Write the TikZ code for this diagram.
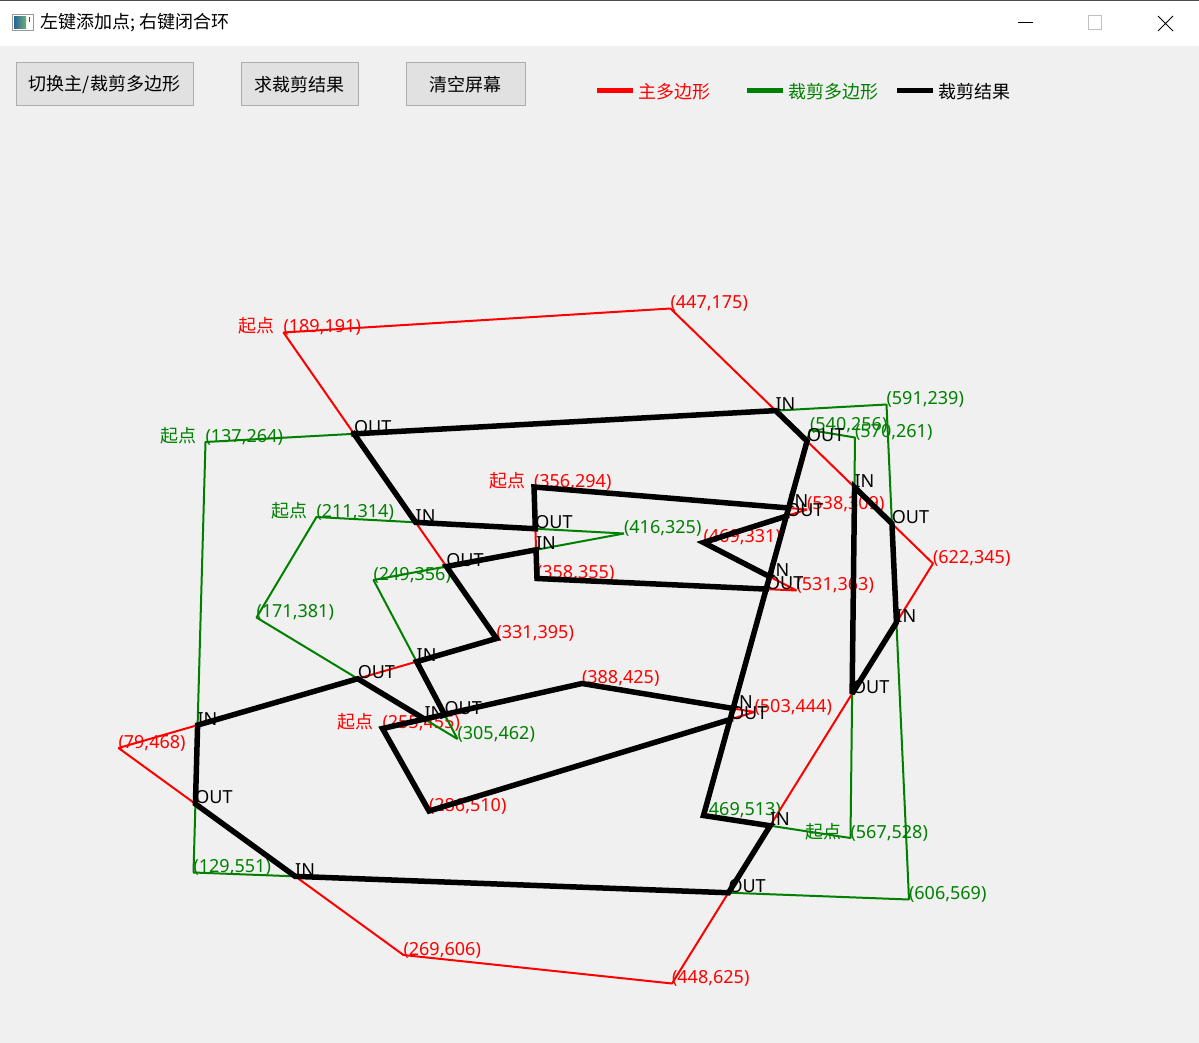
\documentclass[tikz,border=0pt]{standalone}
\usepackage{fontspec}
\setmainfont{Noto Sans}
\newfontfamily\cjk{Noto Sans CJK SC}
\definecolor{qgreen}{RGB}{0,128,0}
\definecolor{qred}{RGB}{255,0,0}
\definecolor{winbg}{RGB}{240,240,240}
\definecolor{btnfill}{RGB}{225,225,225}
\definecolor{btnedge}{RGB}{173,173,173}
\definecolor{icoA}{RGB}{40,100,150}
\definecolor{icoB}{RGB}{110,175,120}
\tikzset{
  redline/.style={qred, line width=2pt, line join=bevel},
  greenline/.style={qgreen, line width=2pt, line join=bevel},
  resline/.style={black, line width=5.5pt, line cap=rect, line join=miter, miter limit=3},
  vlab/.style={anchor=base west, inner sep=0pt, outer sep=0pt, font=\fontsize{18}{18}\selectfont},
  redlab/.style={vlab, text=qred},
  greenlab/.style={vlab, text=qgreen},
  startlab/.style={vlab, font=\cjk\fontsize{18}{18}\selectfont, xshift=-45pt},
  iolab/.style={vlab, text=black},
  btn/.style={draw=btnedge, fill=btnfill, line width=1pt, inner sep=0pt, minimum height=43pt, font=\cjk\fontsize{18}{18}\selectfont},
  legtext/.style={anchor=west, inner sep=0pt, font=\cjk\fontsize{18}{18}\selectfont},
}
\begin{document}
\begin{tikzpicture}[x=1pt,y=-1pt]
\useasboundingbox (0,0) rectangle (1199,1043);
% window
\fill[winbg] (0,0) rectangle (1199,1043);
\fill[white] (0,0) rectangle (1199,46);
\fill[black!70] (0,0) rectangle (1199,1.5);
% icon
\draw[line width=1pt, draw=gray!80, fill=white] (12,14.5) rectangle (33,31);
\shade[left color=icoA, right color=icoB] (14,16.5) rectangle (26,29);
\fill[black!70] (28.5,17) rectangle (29.8,22.5);
\node[anchor=west, inner sep=0pt, font=\cjk\fontsize{18}{18}\selectfont] (title) at (40,23) {左键添加点; 右键闭合环};
% window controls
\draw[line width=1pt] (1018,23) -- (1033,23);
\draw[line width=1pt, draw=black!25] (1088,16) rectangle (1101,30);
\draw[line width=1pt] (1158,16) -- (1173,31) (1173,16) -- (1158,31);
% buttons
\node[btn, minimum width=177pt] (b1) at (104.5,84.5) {切换主/裁剪多边形};
\node[btn, minimum width=117pt] (b2) at (299.5,84.5) {求裁剪结果};
\node[btn, minimum width=119pt] (b3) at (465.5,84.5) {清空屏幕};
% legend
\draw[qred, line width=5pt] (597,91) -- (633,91);
\node[legtext, text=qred] (l1) at (638,92) {主多边形};
\draw[qgreen, line width=5pt] (747,91) -- (783,91);
\node[legtext, text=qgreen] (l2) at (788,92) {裁剪多边形};
\draw[black, line width=5pt] (897,91) -- (933,91);
\node[legtext, text=black] (l3) at (938,92) {裁剪结果};

\begin{scope}[yshift=-46pt, x=1.5pt, y=-1.5pt]
% main polygons (red)
\coordinate (ra) at (189,191); \coordinate (rb) at (447,175); \coordinate (rc) at (622,345);
\coordinate (rd) at (448,625); \coordinate (re) at (269,606); \coordinate (rf) at (79,468);
\coordinate (rg) at (331,395);
\coordinate (sa) at (356,294); \coordinate (sb) at (538,309); \coordinate (sc) at (469,331);
\coordinate (sd) at (531,363); \coordinate (se) at (358,355);
\coordinate (ta) at (255,455); \coordinate (tb) at (286,510); \coordinate (tc) at (503,444);
\coordinate (td) at (388,425);
% clip polygons (green)
\coordinate (ga) at (137,264); \coordinate (gb) at (591,239); \coordinate (gc) at (606,569);
\coordinate (gd) at (129,551);
\coordinate (ha) at (211,314); \coordinate (hb) at (416,325); \coordinate (hc) at (249,356);
\coordinate (hd) at (305,462); \coordinate (he) at (171,381);
\coordinate (ka) at (567,528); \coordinate (kb) at (469,513); \coordinate (kc) at (540,256);
\coordinate (kd) at (570,261);
% intersections
\coordinate (P1) at (intersection of ra--rg and ga--gb);
\coordinate (P2) at (intersection of rb--rc and ga--gb);
\coordinate (P3) at (intersection of rb--rc and kc--kb);
\coordinate (P4) at (intersection of rb--rc and kd--ka);
\coordinate (P5) at (intersection of rb--rc and gb--gc);
\coordinate (P6) at (intersection of rc--rd and gb--gc);
\coordinate (P7) at (intersection of rc--rd and kd--ka);
\coordinate (P8) at (intersection of rc--rd and kb--ka);
\coordinate (P9) at (intersection of rc--rd and gc--gd);
\coordinate (P10) at (intersection of re--rf and gc--gd);
\coordinate (P11) at (intersection of re--rf and gd--ga);
\coordinate (P12) at (intersection of rf--rg and gd--ga);
\coordinate (P13) at (intersection of rf--rg and hd--he);
\coordinate (P14) at (intersection of rf--rg and hc--hd);
\coordinate (P15) at (intersection of rg--ra and hb--hc);
\coordinate (P16) at (intersection of rg--ra and ha--hb);
\coordinate (P17) at (intersection of se--sa and ha--hb);
\coordinate (P18) at (intersection of se--sa and hb--hc);
\coordinate (P19) at (intersection of sa--sb and kc--kb);
\coordinate (P20) at (intersection of sb--sc and kc--kb);
\coordinate (P21) at (intersection of sc--sd and kc--kb);
\coordinate (P22) at (intersection of sd--se and kc--kb);
\coordinate (P23) at (intersection of tc--td and kc--kb);
\coordinate (P24) at (intersection of tb--tc and kc--kb);
\coordinate (P25) at (intersection of ta--td and hd--he);
\coordinate (P26) at (intersection of ta--td and hc--hd);

% red polygons
\draw[redline] (ra)--(rb)--(rc)--(rd)--(re)--(rf)--(rg)--cycle;
\draw[redline] (sa)--(sb)--(sc)--(sd)--(se)--cycle;
\draw[redline] (ta)--(tb)--(tc)--(td)--cycle;
\node[redlab, startlab] (nra0) at (ra) {起点};
\node[redlab] (nra) at (ra) {(189,191)};
\node[redlab] (nrb) at (rb) {(447,175)};
\node[redlab] (nrc) at (rc) {(622,345)};
\node[redlab] (nrd) at (rd) {(448,625)};
\node[redlab] (nre) at (re) {(269,606)};
\node[redlab] (nrf) at (rf) {(79,468)};
\node[redlab] (nrg) at (rg) {(331,395)};
\node[redlab, startlab] (nsa0) at (sa) {起点};
\node[redlab] (nsa) at (sa) {(356,294)};
\node[redlab] (nsb) at (sb) {(538,309)};
\node[redlab] (nsc) at (sc) {(469,331)};
\node[redlab] (nsd) at (sd) {(531,363)};
\node[redlab] (nse) at (se) {(358,355)};
\node[redlab, startlab] (nta0) at (ta) {起点};
\node[redlab] (nta) at (ta) {(255,455)};
\node[redlab] (ntb) at (tb) {(286,510)};
\node[redlab] (ntc) at (tc) {(503,444)};
\node[redlab] (ntd) at (td) {(388,425)};

% green polygons
\draw[greenline] (ga)--(gb)--(gc)--(gd)--cycle;
\draw[greenline] (ha)--(hb)--(hc)--(hd)--(he)--cycle;
\draw[greenline] (ka)--(kb)--(kc)--(kd)--cycle;
\node[greenlab, startlab] (nga0) at (ga) {起点};
\node[greenlab] (nga) at (ga) {(137,264)};
\node[greenlab] (ngb) at (gb) {(591,239)};
\node[greenlab] (ngc) at (gc) {(606,569)};
\node[greenlab] (ngd) at (gd) {(129,551)};
\node[greenlab, startlab] (nha0) at (ha) {起点};
\node[greenlab] (nha) at (ha) {(211,314)};
\node[greenlab] (nhb) at (hb) {(416,325)};
\node[greenlab] (nhc) at (hc) {(249,356)};
\node[greenlab] (nhd) at (hd) {(305,462)};
\node[greenlab] (nhe) at (he) {(171,381)};
\node[greenlab, startlab] (nka0) at (ka) {起点};
\node[greenlab] (nka) at (ka) {(567,528)};
\node[greenlab] (nkb) at (kb) {(469,513)};
\node[greenlab] (nkc) at (kc) {(540,256)};
\node[greenlab] (nkd) at (kd) {(570,261)};

% clipping result (black)
\draw[resline] (P1)--(P2)--(P3)--(kb)--(P8)--(P9)--(P10)--(P11)--(P12)--(P13)--(P25);
\draw[resline] (P23)--(td)--(ta)--(tb)--(P24);
\draw[resline] (P26)--(P14)--(rg)--(P15)--(P18)--(se)--(P22);
\draw[resline] (P1)--(P16)--(P17)--(sa)--(P19);
\draw[resline] (P20)--(sc)--(P21);
\draw[resline] (P4)--(P5)--(P6)--(P7)--cycle;

% IN / OUT labels
\node[iolab] (q1) at (P1) {OUT};
\node[iolab] (q2) at (P2) {IN};
\node[iolab] (q3) at (P3) {OUT};
\node[iolab] (q4) at (P4) {IN};
\node[iolab] (q5) at (P5) {OUT};
\node[iolab] (q6) at (P6) {IN};
\node[iolab] (q7) at (P7) {OUT};
\node[iolab] (q8) at (P8) {IN};
\node[iolab] (q9) at (P9) {OUT};
\node[iolab] (q10) at (P10) {IN};
\node[iolab] (q11) at (P11) {OUT};
\node[iolab] (q12) at (P12) {IN};
\node[iolab] (q13) at (P13) {OUT};
\node[iolab] (q14) at (P14) {IN};
\node[iolab] (q15) at (P15) {OUT};
\node[iolab] (q16) at (P16) {IN};
\node[iolab] (q17) at (P17) {OUT};
\node[iolab] (q18) at (P18) {IN};
\node[iolab] (q19) at (P19) {IN};
\node[iolab] (q20) at (P20) {OUT};
\node[iolab] (q21) at (P21) {IN};
\node[iolab] (q22) at (P22) {OUT};
\node[iolab] (q23) at (P23) {IN};
\node[iolab] (q24) at (P24) {OUT};
\node[iolab] (q25) at (P25) {IN};
\node[iolab] (q26) at (P26) {OUT};
\end{scope}
\end{tikzpicture}
\end{document}
